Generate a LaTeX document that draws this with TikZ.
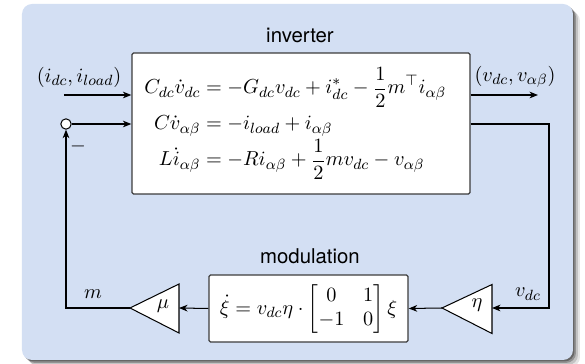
\documentclass[tikz,border=0pt]{standalone}
\usepackage{amsmath}
\usepackage{fontspec}
\setsansfont{TeX Gyre Heros}
\usetikzlibrary{arrows.meta}
\definecolor{bgblue}{RGB}{211,223,243}
\definecolor{boxline}{RGB}{60,60,60}
\newcommand{\eqlhs}[1]{\makebox[33.5pt][r]{$#1$}}
\tikzset{
  sys/.style={draw=boxline, fill=white, line width=0.7pt, rounded corners=0.8pt, inner sep=0pt},
  gain/.style={draw=black, fill=white, line width=0.55pt, line join=miter},
  conn/.style={draw=black, line width=0.55pt},
  arr/.style={conn, -{Stealth[length=4.6pt,width=3.6pt,inset=1.4pt]}},
  lab/.style={inner sep=0pt, font=\fontsize{11}{13}\selectfont},
  eqline/.style={lab, anchor=base west},
  title/.style={inner sep=0pt, font=\sffamily\fontsize{11}{13}\selectfont},
}
\begin{document}
\begin{tikzpicture}[x=0.54pt,y=-0.54pt]
\useasboundingbox (0,0) rectangle (585,364);
% shadow
\foreach \d/\o in {7/0.10,5/0.15,3/0.25,1.5/0.3}
  \fill[black,opacity=\o,rounded corners=5.4pt] ({22+\d},{4+\d}) rectangle ({573+\d},{360+\d});
% block background
\fill[bgblue,rounded corners=5.4pt] (22,4) rectangle (573,360);

% titles
\node[title] (invtitle) at (300,35) {inverter};
\node[title] (modtitle) at (310,256) {modulation};

% inverter box
\node[sys, minimum width=182.5pt, minimum height=76.1pt] (inv) at (301,123.5) {};
% equations
\node[eqline] (e1) at (138,94) {\eqlhs{C_{dc}\dot{v}_{dc}}$\displaystyle {}= -G_{dc}v_{dc}+i^{*}_{dc}-\frac{1}{2}m^{\top}i_{\alpha\beta}$};
\node[eqline] (e2) at (138,130) {\eqlhs{C\dot{v}_{\alpha\beta}}$\displaystyle {}= -i_{load}+i_{\alpha\beta}$};
\node[eqline] (e3) at (138,166) {\eqlhs{L\dot{i}_{\alpha\beta}}$\displaystyle {}= -Ri_{\alpha\beta}+\frac{1}{2}mv_{dc}-v_{\alpha\beta}$};

% modulation box
\node[sys, minimum width=107.5pt, minimum height=36.2pt] (mod) at (308.5,308.5) {};
\node[lab] (modeq) at (308.5,309) {$\dot{\xi}=v_{dc}\eta\cdot\begin{bmatrix}0 & 1\\ -1 & 0\end{bmatrix}\xi$};

% gains
\coordinate (etaT) at (442,308);
\coordinate (etaR) at (492,308);
\draw[gain] (etaT) -- (492,284.5) -- (492,333.5) -- cycle;
\node[lab] (etalab) at (477,305) {$\eta$};
\coordinate (muT) at (130,308);
\coordinate (muR) at (179,308);
\draw[gain] (muT) -- (179,284) -- (179,333) -- cycle;
\node[lab] (mulab) at (163,306) {$\mu$};

% summing junction
\node[draw=black, fill=white, circle, line width=0.55pt, minimum size=5.6pt, inner sep=0pt] (sum) at (66,124) {};
\node[lab] (minus) at (78,146) {$-$};

% input / output
\coordinate (inL) at (64,95);
\draw[arr] (inL) -- (inL -| inv.west);
\node[lab] (inlab) at (79,77) {$(i_{dc},i_{load})$};
\coordinate (outR) at (538,95);
\draw[arr] (inv.east |- outR) -- (outR);
\node[lab] (outlab) at (515,77) {$(v_{dc},v_{\alpha\beta})$};

% feedback
\coordinate (fbR) at (549,124);
\draw[arr] (inv.east |- fbR) -- (fbR) |- (etaR);
\node[lab] (vdclab) at (528,294) {$v_{dc}$};
\draw[arr] (etaT) -- (mod.east);
\draw[arr] (mod.west) -- (muR);
\coordinate (mcorner) at (66,308);
\draw[arr] (muT) -- (mcorner) -- (sum.south);
\node[lab] (mlab) at (93,294) {$m$};
\draw[arr] (sum.east) -- (sum.east -| inv.west);
\end{tikzpicture}
\end{document}
